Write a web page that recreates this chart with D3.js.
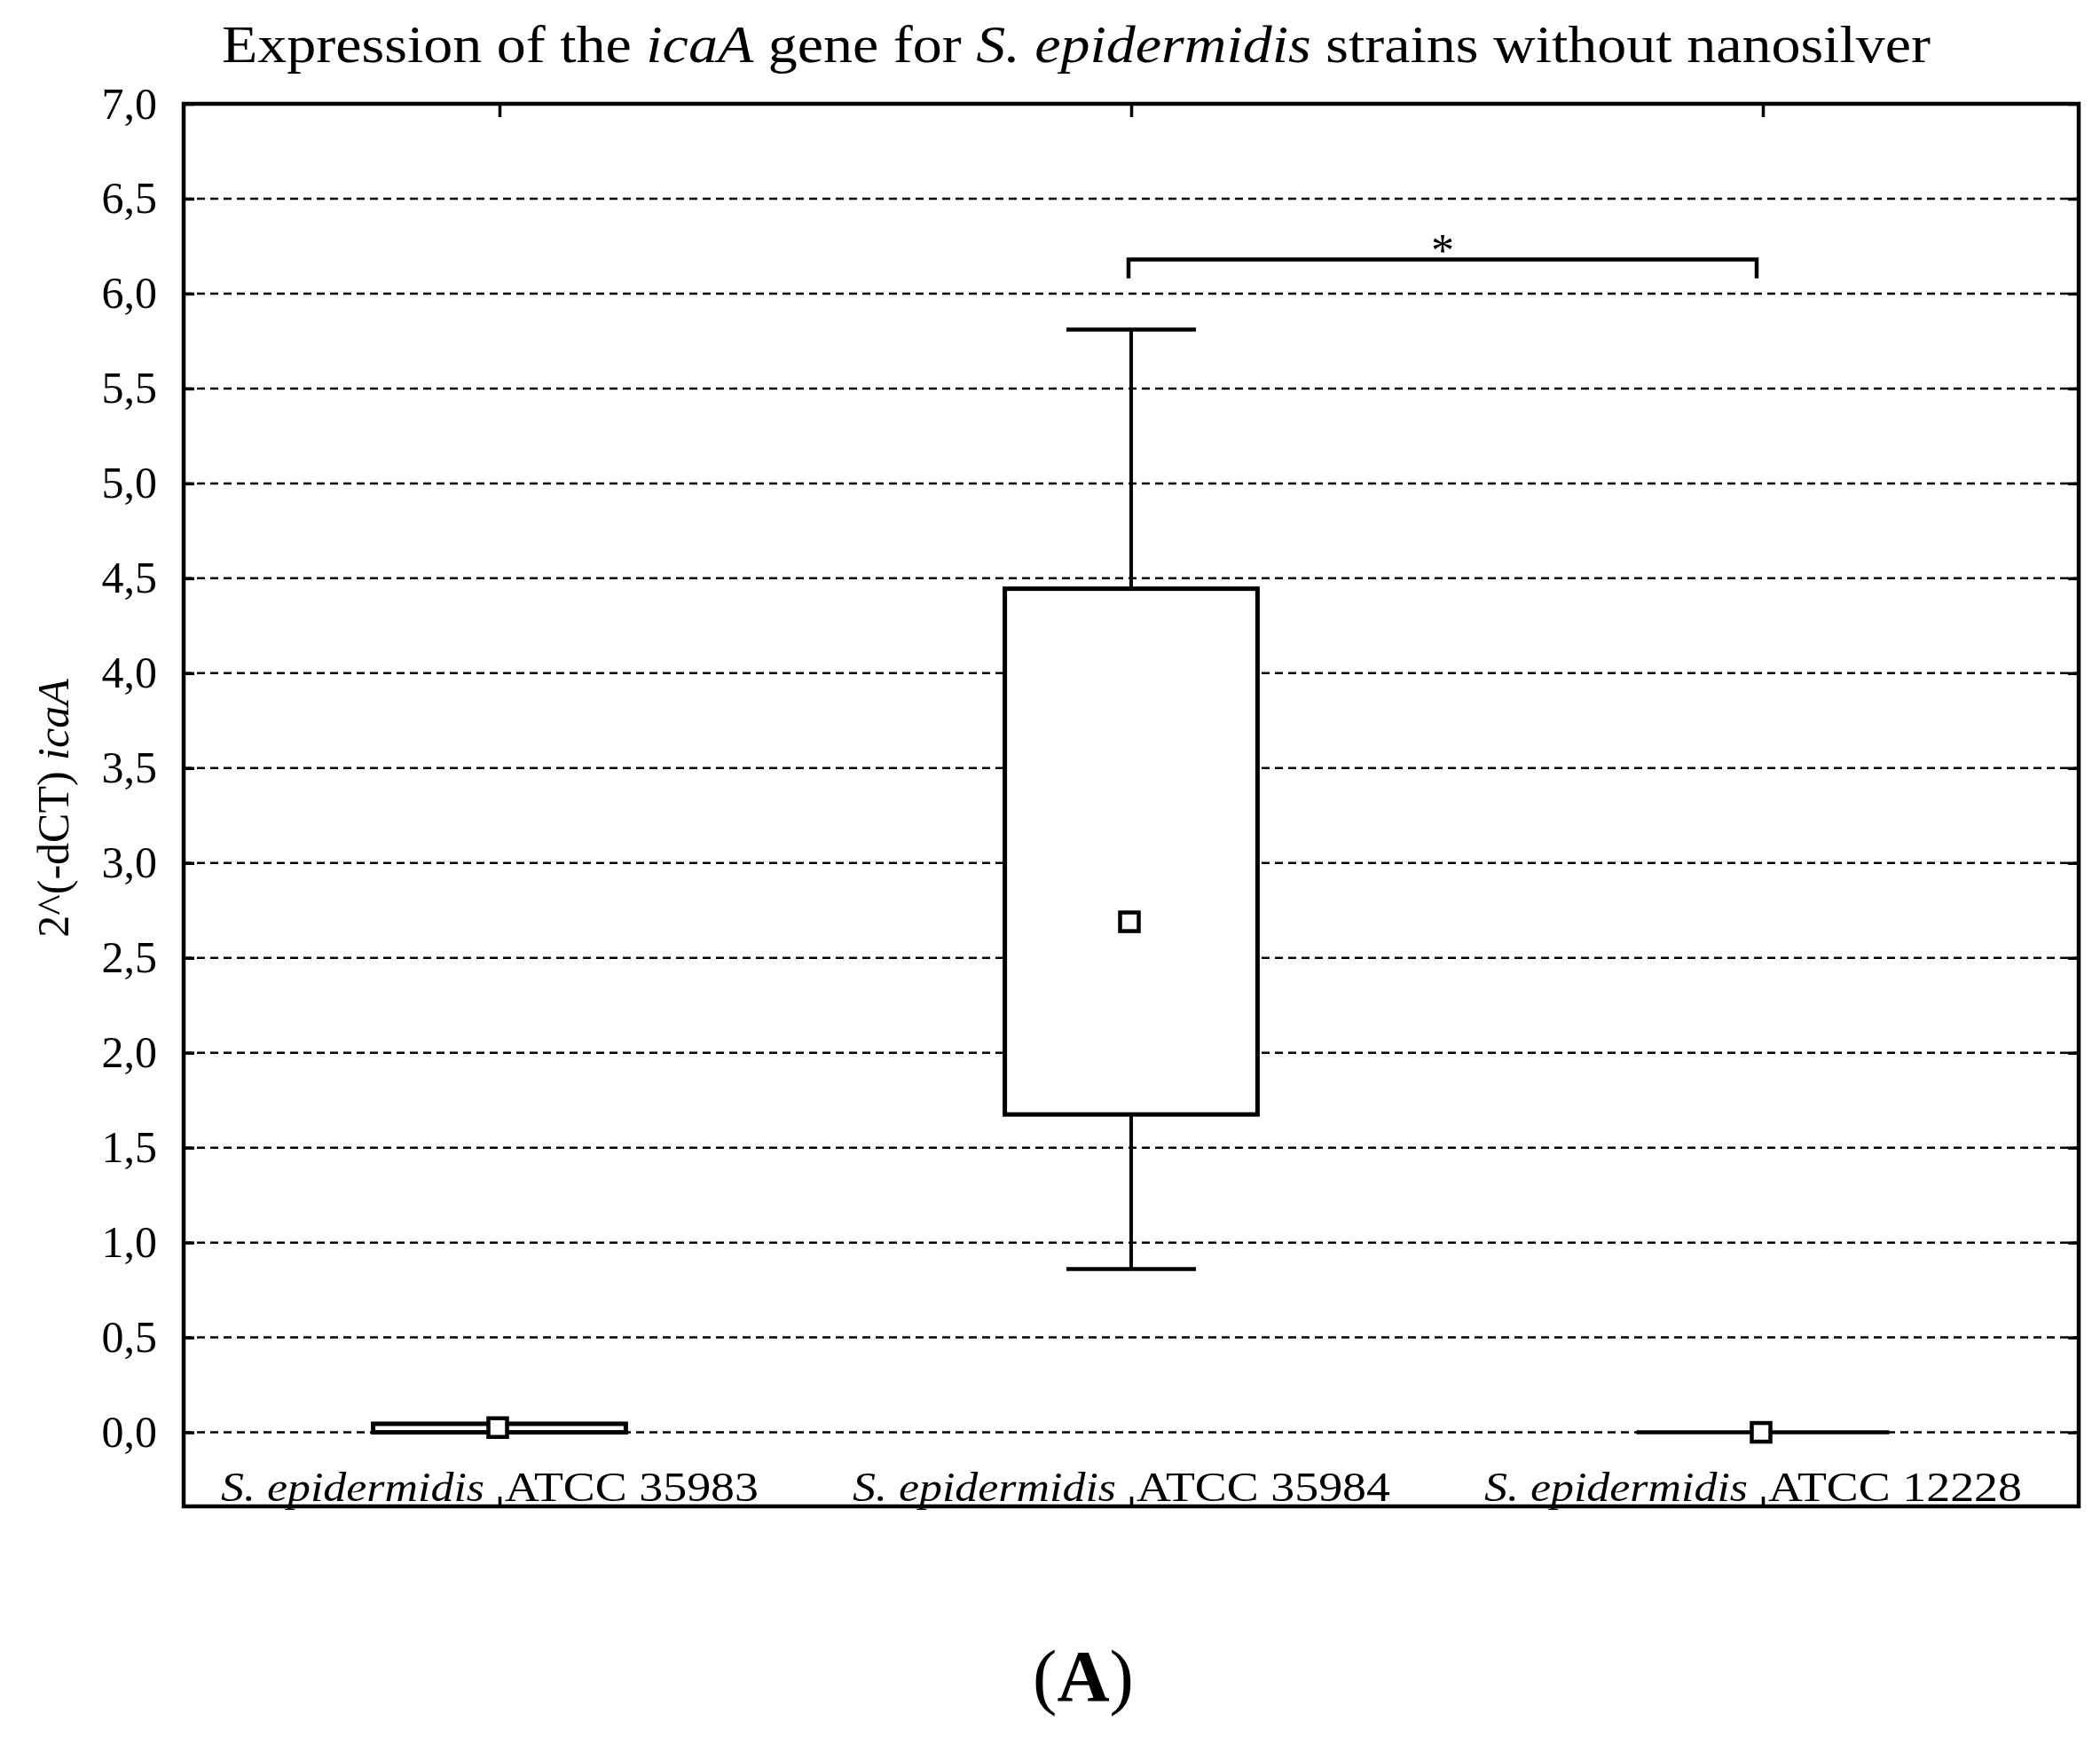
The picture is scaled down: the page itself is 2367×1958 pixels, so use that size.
<!DOCTYPE html>
<html>
<head>
<meta charset="utf-8">
<script src="https://cdn.jsdelivr.net/npm/d3@7"></script>
<style>
  html, body { margin: 0; padding: 0; background: #fff; }
  svg { display: block; }
  text { font-family: "Liberation Serif", "DejaVu Serif", serif; fill: #000; }
</style>
</head>
<body>
<script>
// ---------------- data ----------------
const speciesNames = ["S. epidermidis", "S. epidermidis", "S. epidermidis"];
const strainNames  = ["ATCC 35983", "ATCC 35984", "ATCC 12228"];
const medians      = [0.025, 2.69, 0.0];
const q1Values     = [0.0, 1.675, 0.0];
const q3Values     = [0.045, 4.445, 0.0];
const whiskerLow   = [0.0, 0.86, 0.0];
const whiskerHigh  = [0.045, 5.81, 0.0];
const yTickValues  = [0, 0.5, 1, 1.5, 2, 2.5, 3, 3.5, 4, 4.5, 5, 5.5, 6, 6.5, 7];
const yTickLabels  = ["0,0","0,5","1,0","1,5","2,0","2,5","3,0","3,5","4,0","4,5","5,0","5,5","6,0","6,5","7,0"];
const sigFrom = "ATCC 35984", sigTo = "ATCC 12228", sigLevel = 6.18, sigLegLevel = 6.08, sigLabel = "*";

// ---------------- layout ----------------
const W = 2367, H = 1958;
const L = 207, R = 2343, T = 117, B = 1698;

const svg = d3.select("body").append("svg").attr("width", W).attr("height", H);
svg.append("rect").attr("width", W).attr("height", H).attr("fill", "#fff");

const x = d3.scalePoint().domain(strainNames).range([L, R]).padding(0.5);
const y = d3.scaleLinear().domain([-0.39, 7]).range([B, T]);

// gridlines
svg.append("g").selectAll("line")
  .data(yTickValues.filter(v => v < 7))
  .join("line")
  .attr("x1", L).attr("x2", R)
  .attr("y1", d => y(d)).attr("y2", d => y(d))
  .attr("stroke", "#000").attr("stroke-width", 2.5)
  .attr("stroke-dasharray", "9,6");

// axes
const leftAxis = svg.append("g").attr("transform", `translate(${L},0)`)
  .call(d3.axisLeft(y).tickValues(yTickValues).tickSize(-12).tickPadding(30)
        .tickFormat((d, i) => yTickLabels[i]));
const rightAxis = svg.append("g").attr("transform", `translate(${R},0)`)
  .call(d3.axisRight(y).tickValues(yTickValues).tickSize(-12).tickFormat(""));
const topAxis = svg.append("g").attr("transform", `translate(0,${T})`)
  .call(d3.axisTop(x).tickSize(-15).tickFormat(""));
const bottomAxis = svg.append("g").attr("transform", `translate(0,${B})`)
  .call(d3.axisBottom(x).tickSize(-11).tickFormat(""));
[leftAxis, rightAxis, topAxis, bottomAxis].forEach(a => {
  a.select(".domain").remove();
  a.selectAll(".tick line").attr("stroke", "#000").attr("stroke-width", 3.5);
});
leftAxis.selectAll(".tick text")
  .attr("font-size", 50).attr("font-family", "Liberation Serif").attr("fill", "#000");

// frame
svg.append("rect").attr("x", L).attr("y", T).attr("width", R - L).attr("height", B - T)
  .attr("fill", "none").attr("stroke", "#000").attr("stroke-width", 4.5);

// boxes
const bw = x.step() * 0.4;
const cw = x.step() * 0.205;
const groups = strainNames.map((s, i) => ({
  s, med: medians[i], q1: q1Values[i], q3: q3Values[i], lo: whiskerLow[i], hi: whiskerHigh[i]
}));
const g = svg.append("g");
groups.forEach(d => {
  const cx = x(d.s);
  if (d.hi > d.q3) {
    g.append("line").attr("x1", cx).attr("x2", cx).attr("y1", y(d.q3)).attr("y2", y(d.hi))
      .attr("stroke", "#000").attr("stroke-width", 4);
    g.append("line").attr("x1", cx - cw / 2).attr("x2", cx + cw / 2).attr("y1", y(d.hi)).attr("y2", y(d.hi))
      .attr("stroke", "#000").attr("stroke-width", 4.5);
  }
  if (d.lo < d.q1) {
    g.append("line").attr("x1", cx).attr("x2", cx).attr("y1", y(d.q1)).attr("y2", y(d.lo))
      .attr("stroke", "#000").attr("stroke-width", 4);
    g.append("line").attr("x1", cx - cw / 2).attr("x2", cx + cw / 2).attr("y1", y(d.lo)).attr("y2", y(d.lo))
      .attr("stroke", "#000").attr("stroke-width", 4.5);
  }
  const hgt = y(d.q1) - y(d.q3);
  if (hgt > 1) {
    g.append("rect").attr("x", cx - bw / 2).attr("y", y(d.q3))
      .attr("width", bw).attr("height", hgt)
      .attr("fill", "#fff").attr("stroke", "#000").attr("stroke-width", 5);
  } else {
    g.append("line").attr("x1", cx - bw / 2).attr("x2", cx + bw / 2)
      .attr("y1", y(d.q3)).attr("y2", y(d.q3))
      .attr("stroke", "#000").attr("stroke-width", 4.5);
  }
  const ms = 21;
  g.append("rect").attr("x", cx - 2 - ms / 2).attr("y", y(d.med) - ms / 2)
    .attr("width", ms).attr("height", ms)
    .attr("fill", "#fff").attr("stroke", "#000").attr("stroke-width", 4.5);
});

// significance bracket
const bx1 = x(sigFrom) - 3, bx2 = x(sigTo) - 7;
svg.append("path")
  .attr("d", `M${bx1},${y(sigLegLevel)}V${y(sigLevel)}H${bx2}V${y(sigLegLevel)}`)
  .attr("fill", "none").attr("stroke", "#000").attr("stroke-width", 4.5);
svg.append("text").attr("x", (bx1 + bx2) / 2).attr("y", y(sigLevel) + 8)
  .attr("text-anchor", "middle").attr("font-size", 52).text(sigLabel);

// category labels (the bottom tick sits in the gap between species and strain)
strainNames.forEach((s, i) => {
  svg.append("text")
    .attr("x", x(s) - 17).attr("y", 1692)
    .attr("text-anchor", "end").attr("font-size", 47).attr("font-style", "italic")
    .attr("textLength", 297).attr("lengthAdjust", "spacingAndGlyphs")
    .text(speciesNames[i]);
  svg.append("text")
    .attr("x", x(s) + 6).attr("y", 1692)
    .attr("text-anchor", "start").attr("font-size", 47)
    .attr("textLength", 286).attr("lengthAdjust", "spacingAndGlyphs")
    .text(s);
});

// title
const title = svg.append("text").attr("x", 250).attr("y", 70).attr("font-size", 60)
  .attr("textLength", 1926).attr("lengthAdjust", "spacingAndGlyphs");
title.append("tspan").text("Expression of the ");
title.append("tspan").attr("font-style", "italic").text("icaA");
title.append("tspan").text(" gene for ");
title.append("tspan").attr("font-style", "italic").text("S. epidermidis");
title.append("tspan").text("  strains without nanosilver");

// y-axis label
const yl = svg.append("text").attr("transform", "translate(77,911) rotate(-90)")
  .attr("text-anchor", "middle").attr("font-size", 50);
yl.append("tspan").text("2^(-dCT) ");
yl.append("tspan").attr("font-style", "italic").text("icaA");

// panel label
const pl = svg.append("text").attr("x", 1221).attr("y", 1917).attr("text-anchor", "middle")
  .attr("font-size", 82);
pl.append("tspan").text("(");
pl.append("tspan").attr("font-weight", "bold").text("A");
pl.append("tspan").text(")");
</script>
</body>
</html>
